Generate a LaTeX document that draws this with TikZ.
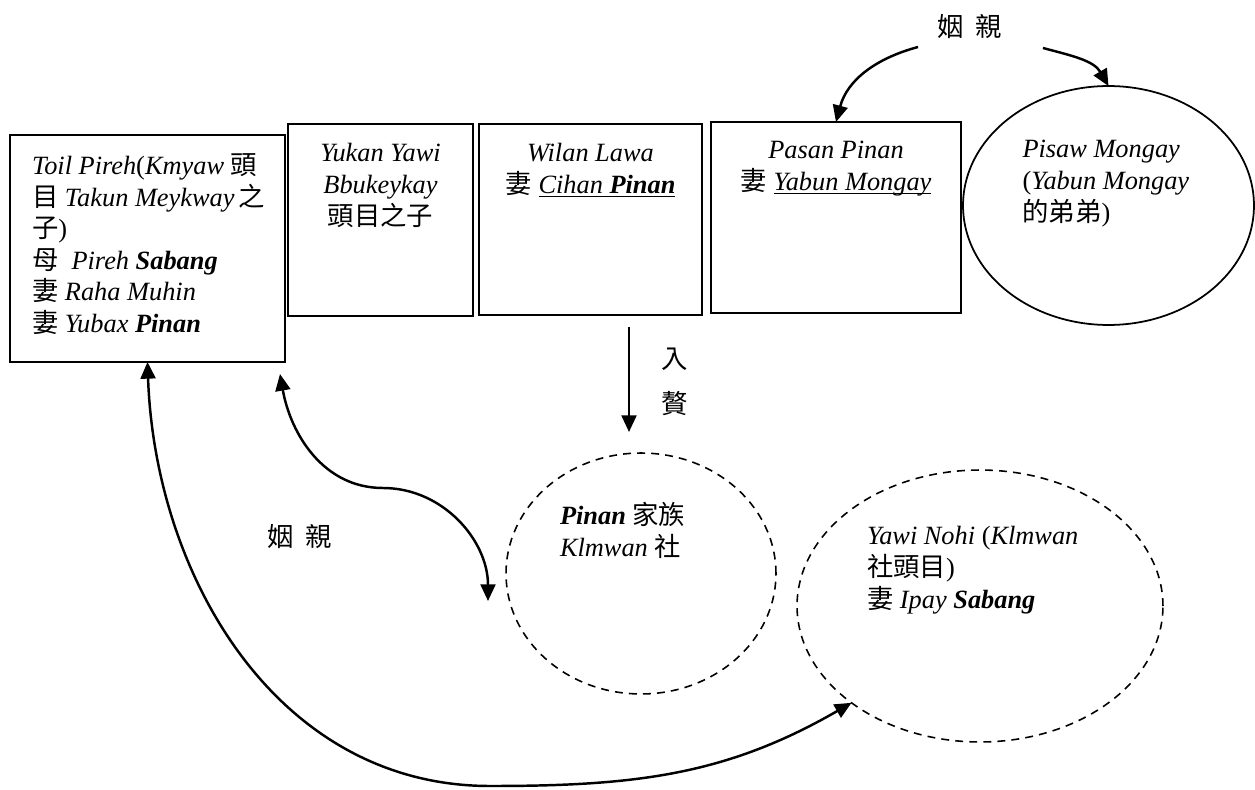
\documentclass[tikz,border=0pt]{standalone}
\usepackage{fontspec}
\setmainfont{Liberation Serif}
\newfontfamily\cjk{Noto Sans CJK TC}
\usepackage{tikz}
\usetikzlibrary{arrows.meta,positioning,shapes.geometric,calc}
\newcommand{\zh}[1]{{\cjk #1}}
\newcommand{\bi}[1]{\textbf{\textit{#1}}}
\newcommand{\ul}[1]{\underline{\smash{#1}}}
\newcommand{\topstrut}{\rule{0pt}{14pt}}

\begin{document}
\begin{tikzpicture}[x=0.02cm,y=0.02cm,
        every node/.style={font=\fontsize{15pt}{18pt}\selectfont,
                           inner sep=0pt,outer sep=0pt},
        famBox/.style={rectangle,draw,line width=1.1pt},
        clanOval/.style={ellipse,draw,line width=1pt},
        tribeOval/.style={ellipse,draw,line width=0.9pt,
                          dash pattern=on 4.5pt off 3.5pt},
        boxText/.style={align=center,execute at begin node=\topstrut},
        leftText/.style={align=left,execute at begin node=\topstrut},
        kinArrow/.style={line width=1.4pt,
          {Triangle[length=9.5pt,width=8.5pt]}-{Triangle[length=9.5pt,width=8.5pt]}},
        oneArrow/.style={line width=1.4pt,-{Triangle[length=9.5pt,width=8.5pt]}}]
  \useasboundingbox (0,0) rectangle (1255,789);
        \node[famBox,minimum width=5.5cm,minimum height=4.54cm]
          (toil) at (147.5,540.5) {};
        \node[famBox,minimum width=3.7cm,minimum height=3.84cm]
          (yukan) at (380.5,569) {};
        \node[famBox,minimum width=4.46cm,minimum height=3.82cm]
          (wilan) at (590.5,569.5) {};
        \node[famBox,minimum width=5.0cm,minimum height=3.82cm]
          (pasan) at (836,571.5) {};
        \node[clanOval,minimum width=5.82cm,minimum height=4.78cm]
          (pisaw) at (1108.5,583.5) {};
        \node[tribeOval,minimum width=5.4cm,minimum height=4.82cm]
          (pinan) at (641,215.5) {};
        \node[tribeOval,minimum width=7.32cm,minimum height=5.44cm]
          (yawi) at (980,183) {};
        \node[leftText,below right=0.37cm and 0.44cm of toil.north west] (toilT)
          {\textit{Toil Pireh}(\textit{Kmyaw}\ \zh{頭}\\
           \zh{目} \textit{Takun Meykway}\,\zh{之}\\
           \zh{子})\\
           \zh{母}\ \ \textit{Pireh} \bi{Sabang}\\
           \zh{妻} \textit{Raha Muhin}\\
           \zh{妻} \textit{Yubax} \bi{Pinan}};
        \node[boxText,below=0.39cm of yukan.north] (yukanT)
          {\textit{Yukan Yawi}\\ \textit{Bbukeykay}\\ \zh{頭目之子}};
        \node[boxText,below=0.39cm of wilan.north] (wilanT)
          {\textit{Wilan Lawa}\\
           \zh{妻} \ul{\textit{Cihan} \bi{Pinan}}};
        \node[boxText,below=0.39cm of pasan.north] (pasanT)
          {\textit{Pasan Pinan}\\
           \zh{妻} \ul{\textit{Yabun Mongay}}};
        \node[leftText,anchor=north west] (pisawT)
          at ($(pisaw.center)+(-86,65)$)
          {\textit{Pisaw Mongay}\\ (\textit{Yabun Mongay}\\ \zh{的弟弟})};
        \node[leftText,anchor=north west] (pinanT)
          at ($(pinan.center)+(-81,71)$)
          {\bi{Pinan} \zh{家族}\\ \textit{Klmwan} \zh{社}};
        \node[leftText,anchor=north west] (yawiT)
          at ($(yawi.center)+(-113,79.5)$)
          {\textit{Yawi Nohi} (\textit{Klmwan}\\ \zh{社頭目})\\
           \zh{妻} \textit{Ipay} \bi{Sabang}};
        \node (topKin) at (970,762) {\zh{姻}\hspace{0.45em}\zh{親}};
        \node (midKin) at (300,252) {\zh{姻}\hspace{0.45em}\zh{親}};
        \node[align=center] (ruzhui) at (675,407)
          {\zh{入}\\[7.5pt]\zh{贅}};
        \coordinate (kinTL) at (918,742);
        \coordinate (kinTR) at (1043,741);
        \coordinate (inA) at (629,462);
        \coordinate (inB) at (629,357);
        \coordinate (kinA) at (280,415);
        \coordinate (kinM) at (383,301);
        \coordinate (kinB) at (488,188);
        \coordinate (kinLow) at (490,3);
        \draw[oneArrow] (kinTL) to[out=195,in=75] (pasan.north);
        \draw[oneArrow] (kinTR) to[out=-15,in=120] (pisaw.north);
        \draw[oneArrow] (inA) -- (inB);
        \draw[kinArrow] (kinA) to[out=-80,in=180] (kinM)
                               to[out=0,in=90] (kinB);
        \draw[kinArrow] (toil.south) to[out=-88,in=180] (kinLow)
                                     to[out=0,in=210] (yawi.217);
      \end{tikzpicture}
\end{document}
